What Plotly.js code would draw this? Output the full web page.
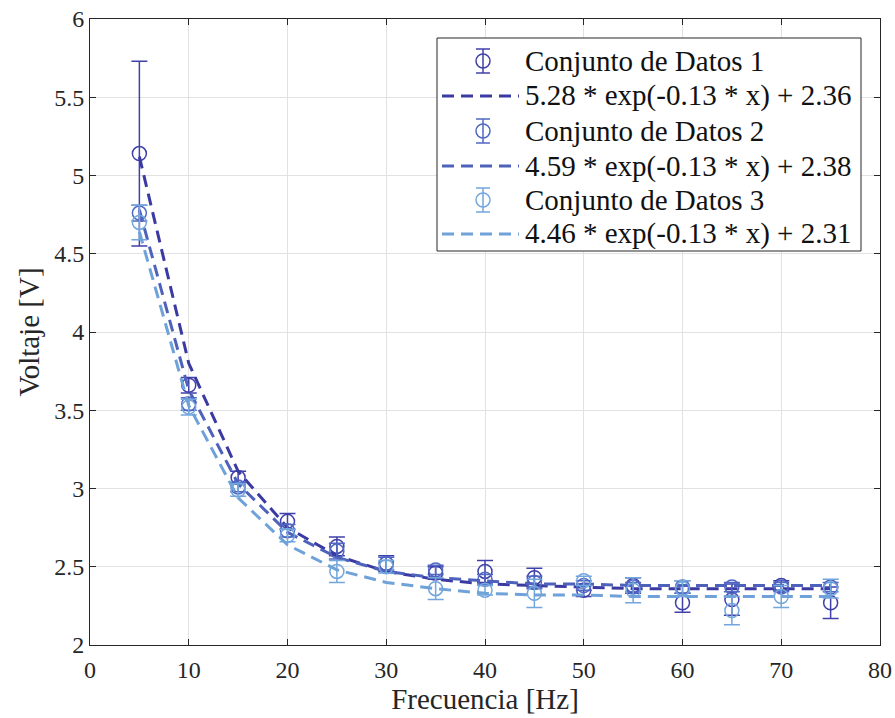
<!DOCTYPE html>
<html>
<head>
<meta charset="utf-8">
<script src="https://cdn.plot.ly/plotly-3.0.1.min.js"></script>
<style>html,body{margin:0;padding:0;background:#fff;}#chart{width:895px;height:718px;}</style>
</head>
<body>
<div id="chart"></div>
<script>
// Frequencies (Hz)
const freq = [5, 10, 15, 20, 25, 30, 35, 40, 45, 50, 55, 60, 65, 70, 75];

// Measured data (V) and error bars
const set1 = [5.14, 3.66, 3.07, 2.79, 2.63, 2.52, 2.46, 2.47, 2.43, 2.35, 2.38, 2.27, 2.29, 2.38, 2.27];
const err1 = [0.59, 0.05, 0.04, 0.05, 0.06, 0.05, 0.04, 0.07, 0.06, 0.04, 0.05, 0.06, 0.10, 0.03, 0.10];
const set2 = [4.76, 3.54, 3.01, 2.73, 2.60, 2.52, 2.48, 2.42, 2.40, 2.38, 2.37, 2.37, 2.37, 2.37, 2.37];
const err2 = [0.05, 0.04, 0.03, 0.04, 0.05, 0.04, 0.03, 0.03, 0.04, 0.03, 0.03, 0.04, 0.03, 0.03, 0.03];
const set3 = [4.70, 3.52, 2.99, 2.70, 2.47, 2.50, 2.36, 2.35, 2.33, 2.41, 2.35, 2.36, 2.22, 2.31, 2.36];
const err3 = [0.11, 0.05, 0.04, 0.04, 0.07, 0.04, 0.07, 0.03, 0.09, 0.03, 0.08, 0.05, 0.09, 0.07, 0.06];

// Fitted curves evaluated at the frequencies
const fit1 = [5.12, 3.80, 3.11, 2.75, 2.57, 2.47, 2.42, 2.39, 2.38, 2.37, 2.36, 2.36, 2.36, 2.36, 2.36];
const fit2 = [4.78, 3.63, 3.03, 2.72, 2.56, 2.47, 2.43, 2.41, 2.39, 2.39, 2.38, 2.38, 2.38, 2.38, 2.38];
const fit3 = [4.64, 3.53, 2.94, 2.64, 2.48, 2.40, 2.36, 2.33, 2.32, 2.32, 2.31, 2.31, 2.31, 2.31, 2.31];

const names = ['Conjunto de Datos 1', 'Conjunto de Datos 2', 'Conjunto de Datos 3'];
const fitNames = ['5.28 * exp(-0.13 * x) + 2.36', '4.59 * exp(-0.13 * x) + 2.38', '4.46 * exp(-0.13 * x) + 2.31'];

const dataColors = ['#4040aa', '#5068c4', '#72a6dc'];
const fitColors = ['#3a3aa2', '#4e62bc', '#6ea2d8'];

const sets = [set1, set2, set3];
const errs = [err1, err2, err3];
const fits = [fit1, fit2, fit3];

const FONT = '"Liberation Serif", "Times New Roman", serif';
const DASH = '12px,7px';

const traces = [];
for (let i = 0; i < 3; i++) {
  traces.push({
    x: freq, y: sets[i], type: 'scatter', mode: 'markers', name: names[i],
    marker: {symbol: 'circle-open', size: 14, color: dataColors[i], line: {width: 1.5, color: dataColors[i]}},
    error_y: {type: 'data', array: errs[i], visible: true, color: dataColors[i], thickness: 1.5, width: 8}
  });
  traces.push({
    x: freq, y: fits[i], type: 'scatter', mode: 'lines', name: fitNames[i],
    line: {color: fitColors[i], width: 3, dash: DASH}
  });
}

// ---- Legend (drawn as shapes + annotations in paper space) ----
const W = 895, H = 718, ML = 90, MR = 15, MT = 19, MB = 73;
const PW = W - ML - MR, PH = H - MT - MB;
const px = v => (v - ML) / PW;          // pixel x -> paper x
const py = v => (H - MB - v) / PH;      // pixel y -> paper y

const shapes = [];
const annotations = [];
shapes.push({type: 'rect', xref: 'paper', yref: 'paper', layer: 'above',
  x0: px(437), x1: px(861), y0: py(38), y1: py(251),
  fillcolor: '#ffffff', line: {color: '#262626', width: 1}});

const rowY = [61, 96, 131, 166, 200, 234];
const mx = 483, r = 7, eb = 12, cap = 7;
for (let i = 0; i < 3; i++) {
  const yd = rowY[2 * i], yf = rowY[2 * i + 1];
  const c = dataColors[i];
  // error-bar marker symbol
  shapes.push({type: 'line', xref: 'paper', yref: 'paper', layer: 'above',
    x0: px(mx), x1: px(mx), y0: py(yd - eb), y1: py(yd + eb), line: {color: c, width: 1.5}});
  shapes.push({type: 'line', xref: 'paper', yref: 'paper', layer: 'above',
    x0: px(mx - cap), x1: px(mx + cap), y0: py(yd - eb), y1: py(yd - eb), line: {color: c, width: 1.5}});
  shapes.push({type: 'line', xref: 'paper', yref: 'paper', layer: 'above',
    x0: px(mx - cap), x1: px(mx + cap), y0: py(yd + eb), y1: py(yd + eb), line: {color: c, width: 1.5}});
  shapes.push({type: 'circle', xref: 'paper', yref: 'paper', layer: 'above',
    x0: px(mx - r), x1: px(mx + r), y0: py(yd - r), y1: py(yd + r), line: {color: c, width: 1.5}});
  // dashed fit line symbol
  shapes.push({type: 'line', xref: 'paper', yref: 'paper', layer: 'above',
    x0: px(442), x1: px(519), y0: py(yf), y1: py(yf), line: {color: fitColors[i], width: 3, dash: DASH}});
  annotations.push({xref: 'paper', yref: 'paper', x: px(523), y: py(yd), xanchor: 'left', yanchor: 'middle',
    text: names[i], showarrow: false, font: {family: FONT, size: 29, color: '#111111'}});
  annotations.push({xref: 'paper', yref: 'paper', x: px(523), y: py(yf), xanchor: 'left', yanchor: 'middle',
    text: fitNames[i], showarrow: false, font: {family: FONT, size: 29, color: '#111111'}});
}

const axisCommon = {
  showline: true, linecolor: '#262626', linewidth: 1, mirror: 'allticks',
  ticks: 'inside', ticklen: 6, tickcolor: '#262626', tickwidth: 1,
  showgrid: true, gridcolor: '#e2e2e2', gridwidth: 1, zeroline: false,
  tickfont: {family: FONT, size: 24, color: '#262626'}
};

const layout = {
  width: W, height: H,
  margin: {l: ML, r: MR, t: MT, b: MB},
  paper_bgcolor: '#ffffff', plot_bgcolor: '#ffffff',
  font: {family: FONT, color: '#262626'},
  xaxis: Object.assign({}, axisCommon, {
    range: [0, 80], dtick: 10, tick0: 0, automargin: false, ticklabelstandoff: 3,
    title: {text: 'Frecuencia [Hz]', font: {family: FONT, size: 29, color: '#262626'}, standoff: 5}
  }),
  yaxis: Object.assign({}, axisCommon, {
    range: [2, 6], dtick: 0.5, tick0: 2, automargin: false,
    title: {text: 'Voltaje [V]', font: {family: FONT, size: 29, color: '#262626'}, standoff: 6}
  }),
  showlegend: false,
  shapes: shapes,
  annotations: annotations
};

Plotly.newPlot('chart', traces, layout, {displayModeBar: false, staticPlot: true});
</script>
</body>
</html>
